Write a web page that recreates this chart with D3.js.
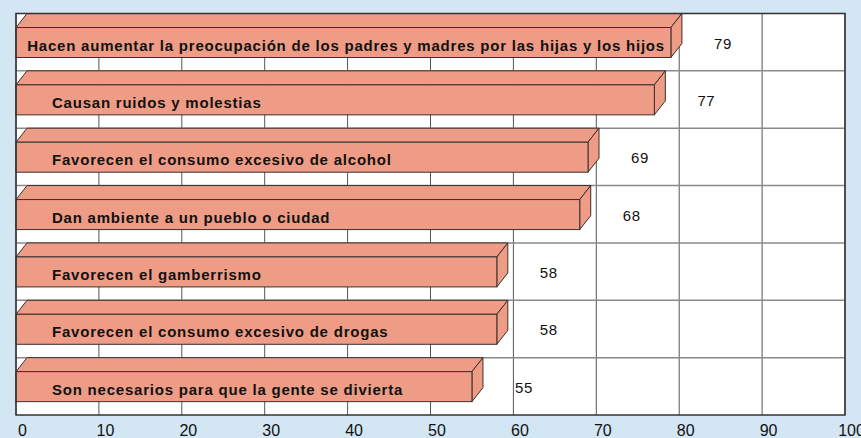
<!DOCTYPE html>
<html>
<head>
<meta charset="utf-8">
<script src="https://cdn.jsdelivr.net/npm/d3@7"></script>
<style>
  body { margin: 0; background: #d3e6f4; }
  svg { display: block; font-family: "Liberation Sans", Arial, sans-serif; }
</style>
</head>
<body>
<div id="chart"></div>
<script>
var categories = [
  'Hacen aumentar la preocupación de los padres y madres por las hijas y los hijos',
  'Causan ruidos y molestias',
  'Favorecen el consumo excesivo de alcohol',
  'Dan ambiente a un pueblo o ciudad',
  'Favorecen el gamberrismo',
  'Favorecen el consumo excesivo de drogas',
  'Son necesarios para que la gente se divierta'
];
var values = [79, 77, 69, 68, 58, 58, 55];
var tickValues = [0, 10, 20, 30, 40, 50, 60, 70, 80, 90, 100];

var width = 861,
    height = 438;
// note: "top" is taken by window.top, so plot edges get their own names
var plotLeft = 16, plotRight = 845, plotTop = 13.5, plotBottom = 415;
var depthX = 11, depthY = 14;   // 3d offset of the bars
var barH = 44;                  // back top to front bottom
var barFill = '#ee9c85';
var edge = '#3a302c';

var svg = d3.select('#chart').append('svg')
    .attr('width', width)
    .attr('height', height);

var x = d3.scaleLinear().domain([0, 100]).range([plotLeft, plotRight]);
var y = d3.scaleBand().domain(categories).range([plotTop, plotBottom]).paddingInner(0);

// plot background
svg.append('rect')
    .attr('x', plotLeft).attr('y', plotTop)
    .attr('width', plotRight - plotLeft).attr('height', plotBottom - plotTop)
    .attr('fill', 'white');

// vertical grid
svg.append('g').selectAll('line')
    .data(tickValues)
    .enter().append('line')
    .attr('x1', function (d) { return x(d); })
    .attr('x2', function (d) { return x(d); })
    .attr('y1', plotTop).attr('y2', plotBottom)
    .attr('stroke', '#555')
    .attr('stroke-width', 1);

// horizontal grid at row boundaries
svg.append('g').selectAll('line')
    .data(categories.slice(1))
    .enter().append('line')
    .attr('x1', plotLeft).attr('x2', plotRight)
    .attr('y1', function (d) { return y(d); })
    .attr('y2', function (d) { return y(d); })
    .attr('stroke', '#8a8a8a')
    .attr('stroke-width', 1.5);

var rows = svg.append('g').selectAll('g')
    .data(categories)
    .enter().append('g');

//top face of the bar
rows.append('path')
    .attr('d', function (d, i) {
        var r0 = y(d), x0 = x(0), x1 = x(values[i]);
        return 'M' + x0 + ',' + (r0 + depthY) +
            'L' + (x0 + depthX) + ',' + r0 +
            'L' + (x1 + depthX) + ',' + r0 +
            'L' + x1 + ',' + (r0 + depthY) + 'Z';
    })
    .attr('fill', barFill)
    .attr('stroke', edge)
    .attr('stroke-width', 1);

//side face
rows.append('path')
    .attr('d', function (d, i) {
        var r0 = y(d), x1 = x(values[i]);
        return 'M' + x1 + ',' + (r0 + depthY) +
            'L' + (x1 + depthX) + ',' + r0 +
            'L' + (x1 + depthX) + ',' + (r0 + barH - depthY) +
            'L' + x1 + ',' + (r0 + barH) + 'Z';
    })
    .attr('fill', barFill)
    .attr('stroke', edge)
    .attr('stroke-width', 1);

//front face
rows.append('rect')
    .attr('x', x(0))
    .attr('y', function (d) { return y(d) + depthY; })
    .attr('width', function (d, i) { return x(values[i]) - x(0); })
    .attr('height', barH - depthY)
    .attr('fill', barFill)
    .attr('stroke', edge)
    .attr('stroke-width', 1);

// category text inside the bars
rows.append('text')
    .attr('y', function (d) { return y(d) + 37; })
    .attr('font-size', '15px')
    .attr('font-weight', 'bold')
    .attr('letter-spacing', '0.78px')
    .attr('fill', '#111')
    .text(function (d) { return d; })
    .attr('x', function (d, i) {
        var w = this.getComputedTextLength();
        var end = x(values[i]) - 6;
        return Math.min(x(0) + 36, end - w);
    });

// value labels
rows.append('text')
    .attr('x', function (d, i) { return x(values[i]) + 52; })
    .attr('y', function (d) { return y(d) + 35; })
    .attr('text-anchor', 'middle')
    .attr('font-size', '15px')
    .attr('letter-spacing', '0.6px')
    .attr('fill', '#111')
    .text(function (d, i) { return values[i]; });

// frame
svg.append('rect')
    .attr('x', plotLeft).attr('y', plotTop)
    .attr('width', plotRight - plotLeft).attr('height', plotBottom - plotTop)
    .attr('fill', 'none')
    .attr('stroke', '#333')
    .attr('stroke-width', 1.5);

// x axis labels
var axis = d3.axisBottom(x)
    .tickValues(tickValues)
    .tickSize(0)
    .tickPadding(0);

var gx = svg.append('g')
    .attr('transform', 'translate(6,' + (plotBottom + 9) + ')')
    .call(axis);
gx.select('.domain').remove();
gx.selectAll('text')
    .attr('font-size', '16px')
    .attr('font-family', '"Liberation Sans", Arial, sans-serif')
    .attr('fill', '#111')
    .attr('dy', '0.75em');
</script>
</body>
</html>
